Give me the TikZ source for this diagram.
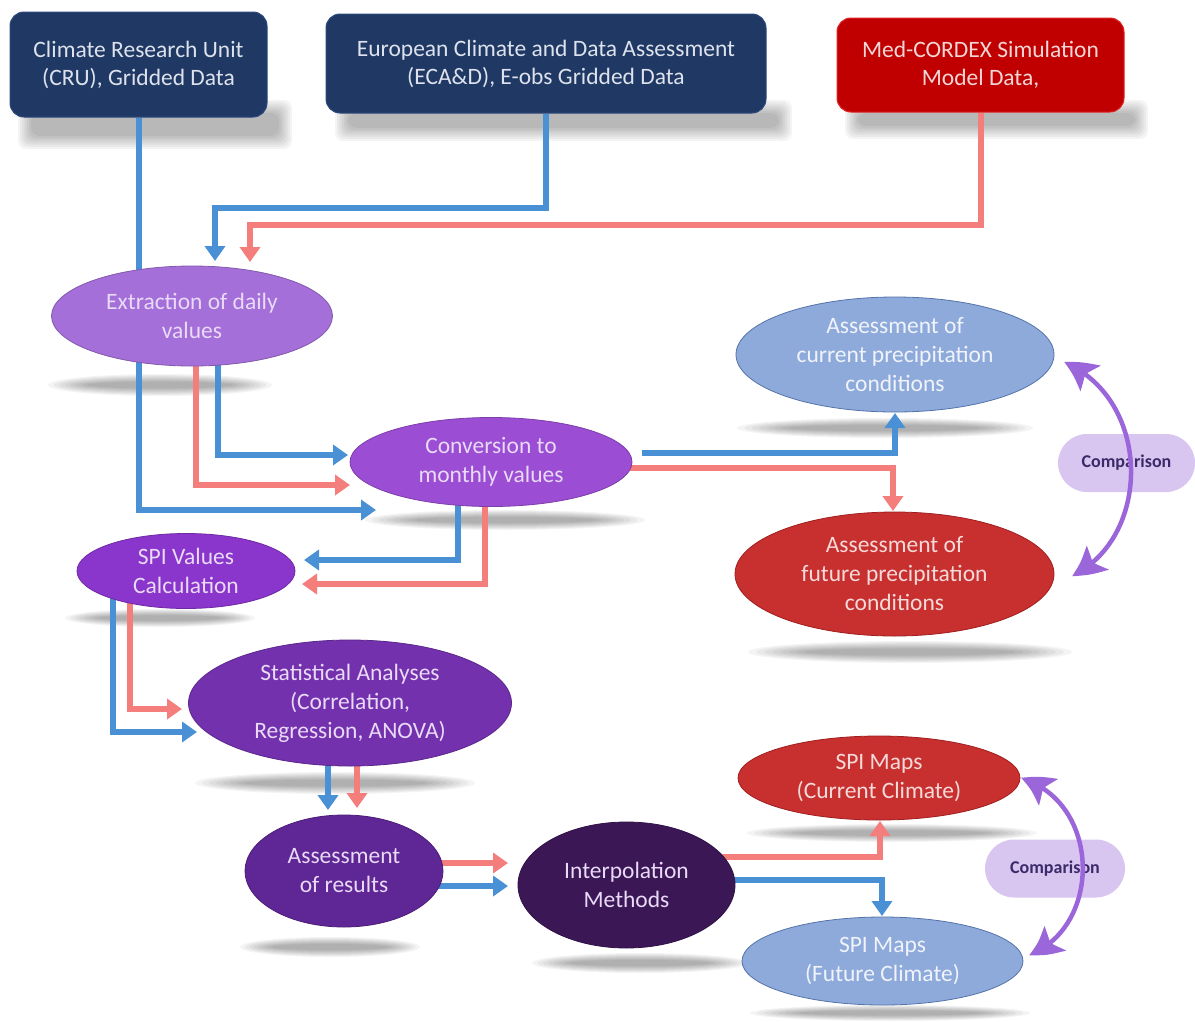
\documentclass[tikz,border=0pt]{standalone}
\usepackage{fontspec}
\setmainfont{Carlito}
\usetikzlibrary{shapes.geometric,arrows.meta,calc,bending}
\pgfdeclarelayer{shadowlayer}
\pgfdeclarelayer{connlayer}
\pgfsetlayers{shadowlayer,connlayer,main}

\definecolor{navy}{HTML}{1F3864}
\definecolor{navyedge}{HTML}{2E4A7C}
\definecolor{boxtext}{HTML}{DDE2EC}
\definecolor{medred}{HTML}{C00000}
\definecolor{mededge}{HTML}{E02424}
\definecolor{medtext}{HTML}{F4D6D6}
\definecolor{ptext}{HTML}{E9DAF7}
\definecolor{btext}{HTML}{F0F3FA}
\definecolor{rtext}{HTML}{F6DADA}
\definecolor{cext}{HTML}{A46FD8}
\definecolor{cconv}{HTML}{9B4DD3}
\definecolor{cspiv}{HTML}{8A35CB}
\definecolor{cstat}{HTML}{7331AE}
\definecolor{cares}{HTML}{5F2695}
\definecolor{cinterp}{HTML}{3B1756}
\definecolor{lblue}{HTML}{8EAADB}
\definecolor{lblueedge}{HTML}{5573AA}
\definecolor{dred}{HTML}{C83030}
\definecolor{drededge}{HTML}{A01E1E}
\definecolor{pillfill}{HTML}{D9C6F0}
\definecolor{pilltext}{HTML}{3B2A6A}
\definecolor{arcpurple}{HTML}{9B66D9}
\definecolor{flowblue}{HTML}{4A90D4}
\definecolor{flowred}{HTML}{F37E7C}

\newcommand\ShadowEll[4]{%
  \foreach \k in {0,...,7}{%
    \pgfmathsetmacro\rxx{#3-\k*#3*0.05}%
    \pgfmathsetmacro\ryy{#4-\k*#4*0.1}%
    \fill[black,fill opacity=0.045] (#1,#2) ellipse [x radius=\rxx pt, y radius=\ryy pt];%
  }}
\newcommand\ShadowBox[4]{%
  \foreach \k in {0,...,6}{%
    \pgfmathsetmacro\dd{\k*2.2}%
    \fill[black,fill opacity=0.045,rounded corners=8pt] (#1+\dd,#2+\dd) rectangle (#3-\dd,#4-\dd);%
  }}

\tikzset{
 box/.style={rectangle, rounded corners=14pt, inner sep=0pt, align=center, line width=1pt, font=\fontsize{23.5}{28}\selectfont},
 ell/.style={ellipse, inner sep=0pt, align=center, line width=0.8pt, font=\fontsize{23.5}{29}\selectfont},
 pill/.style={rectangle, rounded corners=29pt, fill=pillfill, inner sep=0pt, text=pilltext, font=\bfseries\fontsize{18}{20}\selectfont},
 conn/.style={line width=6pt, -{Triangle[length=15pt,width=20pt]}},
 bl/.style={conn, draw=flowblue},
 rd/.style={conn, draw=flowred},
 cmparrow/.style={draw=arcpurple, line width=4.5pt, {Stealth[length=32pt,width=32pt,inset=7pt,bend]}-{Stealth[length=32pt,width=32pt,inset=7pt,bend]}},
}

\begin{document}
\begin{tikzpicture}[x=1pt,y=-1pt]
\useasboundingbox (0,0) rectangle (1195,1021);

% ---------- nodes ----------
\node[box, fill=navy, draw=navyedge, text=boxtext, minimum width=257pt, minimum height=105pt] (cru) at (138.5,64.5) {Climate Research Unit\\(CRU), Gridded Data};
\node[box, fill=navy, draw=navyedge, text=boxtext, minimum width=440pt, minimum height=99pt] (eca) at (546,63.5) {European Climate and Data Assessment\\(ECA\&D), E-obs Gridded Data};
\node[box, fill=medred, draw=mededge, text=medtext, minimum width=287pt, minimum height=94pt] (med) at (980.5,65) {Med-CORDEX Simulation\\Model Data,};

\node[ell, fill=cext, draw=cext!80!black, text=ptext, minimum width=281pt, minimum height=100pt] (ext) at (192,316) {Extraction of daily\\values};
\node[ell, fill=cconv, draw=cconv!80!black, text=ptext, minimum width=282pt, minimum height=89pt] (conv) at (491,462) {Conversion to\\monthly values};
\node[ell, fill=cspiv, draw=cspiv!80!black, text=ptext, minimum width=218pt, minimum height=75pt] (spiv) at (186,571) {SPI Values\\Calculation};
\node[ell, fill=cstat, draw=cstat!80!black, text=ptext, minimum width=323pt, minimum height=126pt] (stat) at (350,703) {Statistical Analyses\\(Correlation,\\Regression, ANOVA)};
\node[ell, fill=cares, draw=cares!80!black, text=ptext, minimum width=198pt, minimum height=112pt] (ares) at (344,871) {Assessment\\of results};
\node[ell, fill=cinterp, draw=cinterp!80!black, text=ptext, minimum width=217pt, minimum height=126pt] (interp) at (626.5,885) {Interpolation\\Methods};

\node[ell, fill=lblue, draw=lblueedge, text=btext, minimum width=318pt, minimum height=115pt] (cur) at (895,354.5) {Assessment of\\current precipitation\\conditions};
\node[ell, fill=dred, draw=drededge, text=rtext, minimum width=319pt, minimum height=124pt] (fut) at (894.5,574) {Assessment of\\future precipitation\\conditions};
\node[ell, fill=dred, draw=drededge, text=rtext, minimum width=282pt, minimum height=84pt] (smc) at (879,778) {SPI Maps\\(Current Climate)};
\node[ell, fill=lblue, draw=lblueedge, text=btext, minimum width=281pt, minimum height=88pt] (smf) at (882.5,961) {SPI Maps\\(Future Climate)};

\node[pill, minimum width=137pt, minimum height=58pt] (cmp1) at (1126.5,463) {Comparison};
\node[pill, minimum width=140pt, minimum height=58pt] (cmp2) at (1055,868.5) {Comparison};

% ---------- shadows ----------
\begin{pgfonlayer}{shadowlayer}
\fill[white] (0,0) rectangle (1195,1021);
\ShadowBox{18}{100}{292}{149}
\ShadowBox{335}{100}{792}{141}
\ShadowBox{845}{100}{1148}{139}
\ShadowEll{160}{385}{112}{11}
\ShadowEll{505}{520}{140}{10}
\ShadowEll{160}{618}{95}{9}
\ShadowEll{335}{783}{140}{11}
\ShadowEll{330}{947}{90}{10}
\ShadowEll{640}{963}{108}{10}
\ShadowEll{885}{428}{148}{10}
\ShadowEll{910}{652}{162}{11}
\ShadowEll{892}{833}{145}{9}
\ShadowEll{890}{1013}{140}{8}
\end{pgfonlayer}

% ---------- connector end points ----------
\coordinate (t1) at (376,510);
\coordinate (t2) at (215,261);
\coordinate (t3) at (250,262);
\coordinate (t4) at (348,455);
\coordinate (t5) at (350,485);
\coordinate (s6) at (642,453);
\coordinate (t6) at (895,413);
\coordinate (t7) at (893,511);
\coordinate (t8) at (304,560);
\coordinate (t9) at (302,584);
\coordinate (t10) at (197,732);
\coordinate (t11) at (182,709);
\coordinate (t12) at (328,810);
\coordinate (t13) at (357,808);
\coordinate (t14) at (508,863);
\coordinate (t15) at (508,886);
\coordinate (t16) at (880,821);
\coordinate (t17) at (882,916);
\coordinate (a1s) at (1064,362);
\coordinate (a1e) at (1072,576);
\coordinate (a2s) at (1021,778);
\coordinate (a2e) at (1029,955);

% ---------- connectors ----------
\begin{pgfonlayer}{connlayer}
\draw[bl] (cru.south) |- (t1);
\draw[bl] (eca.south) -- ++(0,94) -| (t2);
\draw[rd] (med.south) -- ++(0,112) -| (t3);
\draw[bl] ($(ext.center)+(26,0)$) |- (t4);
\draw[rd] ($(ext.center)+(4,0)$) |- (t5);
\draw[bl] (s6) -| (t6);
\draw[rd] ($(conv.center)+(0,6)$) -| (t7);
\draw[bl] ($(conv.center)+(-33,0)$) |- (t8);
\draw[rd] ($(conv.center)+(-6,0)$) |- (t9);
\draw[bl] ($(spiv.center)+(-73,0)$) |- (t10);
\draw[rd] ($(spiv.center)+(-56,0)$) |- (t11);
\draw[bl] (stat.center -| t12) -- (t12);
\draw[rd] (stat.center -| t13) -- (t13);
\draw[rd] (ares.center |- t14) -- (t14);
\draw[bl] (ares.center |- t15) -- (t15);
\draw[rd] ($(interp.center)+(0,-28)$) -| (t16);
\draw[bl] ($(interp.center)+(0,-5)$) -| (t17);
\end{pgfonlayer}

% ---------- comparison arrows ----------
\draw[cmparrow] (a1s) .. controls (1152,400) and (1152,537) .. (a1e);
\draw[cmparrow] (a2s) .. controls (1102,803) and (1102,927) .. (a2e);
\end{tikzpicture}
\end{document}
